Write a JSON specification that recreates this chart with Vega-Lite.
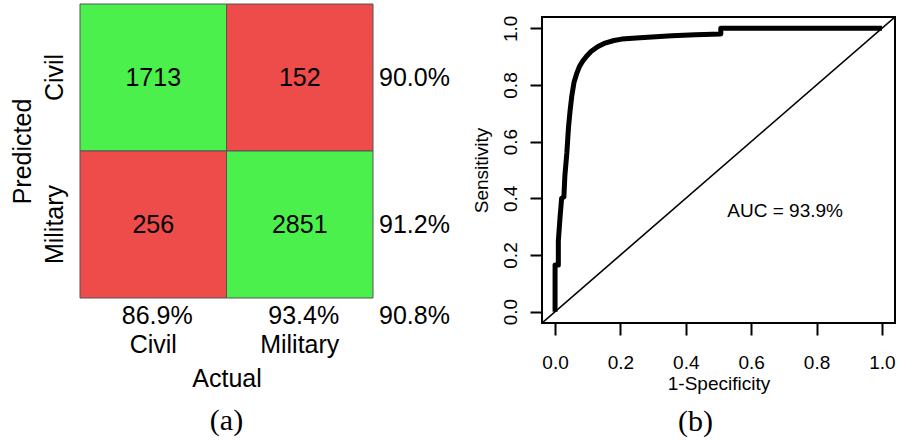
{
  "$schema": "https://vega.github.io/schema/vega-lite/v6.json",
  "background": "white",
  "padding": {"left": 10, "top": 3, "right": 0, "bottom": 0},
  "bounds": "flush",
  "spacing": 169,
  "config": {
    "font": "Liberation Sans",
    "view": {"stroke": null},
    "axis": {
      "grid": false,
      "labelColor": "black",
      "titleColor": "black",
      "tickColor": "black",
      "titleFontWeight": "normal",
      "labelFont": "Liberation Sans",
      "titleFont": "Liberation Sans",
      "labelFlush": false,
      "labelOverlap": false
    },
    "title": {
      "font": "Liberation Serif",
      "fontWeight": "normal",
      "fontSize": 30,
      "color": "black",
      "orient": "bottom",
      "anchor": "middle"
    }
  },
  "hconcat": [
    {
      "width": 293,
      "height": 281,
      "title": {"text": "(a)", "offset": 15},
      "layer": [
        {
          "data": {
            "values": [
              {"actual": "Civil", "predicted": "Civil", "count": 1713, "outcome": "correct"},
              {"actual": "Military", "predicted": "Civil", "count": 152, "outcome": "wrong"},
              {"actual": "Civil", "predicted": "Military", "count": 256, "outcome": "wrong"},
              {"actual": "Military", "predicted": "Military", "count": 2851, "outcome": "correct"}
            ]
          },
          "layer": [
            {
              "mark": {"type": "rect", "stroke": "#555555", "strokeWidth": 1},
              "encoding": {
                "color": {
                  "field": "outcome",
                  "type": "nominal",
                  "scale": {"domain": ["correct", "wrong"], "range": ["#4CF04C", "#EE4B4B"]},
                  "legend": null
                }
              }
            },
            {
              "mark": {"type": "text", "fontSize": 25, "color": "black", "baseline": "middle"},
              "encoding": {"text": {"field": "count", "type": "quantitative"}}
            }
          ],
          "encoding": {
            "x": {
              "field": "actual",
              "type": "nominal",
              "sort": ["Civil", "Military"],
              "title": "Actual",
              "scale": {"paddingInner": 0, "paddingOuter": 0},
              "axis": {
                "orient": "bottom",
                "domain": false,
                "ticks": false,
                "tickSize": 0,
                "labelAngle": 0,
                "labelFontSize": 25,
                "labelPadding": 34,
                "titleFontSize": 25,
                "titlePadding": 9
              }
            },
            "y": {
              "field": "predicted",
              "type": "nominal",
              "sort": ["Civil", "Military"],
              "title": "Predicted",
              "scale": {"range": [-13, 281], "paddingInner": 0, "paddingOuter": 0},
              "axis": {
                "domain": false,
                "ticks": false,
                "tickSize": 0,
                "labelAngle": -90,
                "labelAlign": "center",
                "labelBaseline": "alphabetic",
                "labelFontSize": 25,
                "labelPadding": 18,
                "titleFontSize": 25,
                "titlePadding": 7
              }
            }
          }
        },
        {
          "data": {
            "values": [
              {"predicted": "Civil", "rate": "90.0%"},
              {"predicted": "Military", "rate": "91.2%"}
            ]
          },
          "mark": {"type": "text", "fontSize": 25, "color": "black", "align": "left", "baseline": "middle", "dx": 6},
          "encoding": {
            "x": {"datum": "Military", "type": "nominal", "bandPosition": 1},
            "y": {"field": "predicted", "type": "nominal"},
            "text": {"field": "rate"}
          }
        },
        {
          "data": {
            "values": [
              {"actual": "Civil", "rate": "86.9%"},
              {"actual": "Military", "rate": "93.4%"}
            ]
          },
          "mark": {"type": "text", "fontSize": 25, "color": "black", "align": "center", "baseline": "middle", "dx": 4, "dy": 18},
          "encoding": {
            "x": {"field": "actual", "type": "nominal"},
            "y": {"datum": "Military", "type": "nominal", "bandPosition": 1},
            "text": {"field": "rate"}
          }
        },
        {
          "data": {"values": [{"rate": "90.8%"}]},
          "mark": {"type": "text", "fontSize": 25, "color": "black", "align": "left", "baseline": "middle", "dx": 6, "dy": 18},
          "encoding": {
            "x": {"datum": "Military", "type": "nominal", "bandPosition": 1},
            "y": {"datum": "Military", "type": "nominal", "bandPosition": 1},
            "text": {"field": "rate"}
          }
        }
      ]
    },
    {
      "width": 353,
      "height": 306,
      "view": {"stroke": "black", "strokeWidth": 2},
      "title": {"text": "(b)", "offset": 14, "dx": -23},
      "layer": [
        {
          "data": {"values": [{"fpr": -0.04, "tpr": -0.04}, {"fpr": 1.04, "tpr": 1.04}]},
          "mark": {"type": "line", "color": "black", "strokeWidth": 1.6, "clip": true},
          "encoding": {
            "x": {"field": "fpr", "type": "quantitative"},
            "y": {"field": "tpr", "type": "quantitative"}
          }
        },
        {
          "data": {
            "values": [
              {"step": 1, "fpr": 0.0, "tpr": 0.0},
              {"step": 2, "fpr": 0.0, "tpr": 0.165},
              {"step": 3, "fpr": 0.01, "tpr": 0.165},
              {"step": 4, "fpr": 0.01, "tpr": 0.25},
              {"step": 5, "fpr": 0.015, "tpr": 0.33},
              {"step": 6, "fpr": 0.02, "tpr": 0.4},
              {"step": 7, "fpr": 0.027, "tpr": 0.405},
              {"step": 8, "fpr": 0.03, "tpr": 0.48},
              {"step": 9, "fpr": 0.036, "tpr": 0.56},
              {"step": 10, "fpr": 0.041, "tpr": 0.65},
              {"step": 11, "fpr": 0.046, "tpr": 0.71},
              {"step": 12, "fpr": 0.051, "tpr": 0.76},
              {"step": 13, "fpr": 0.058, "tpr": 0.81},
              {"step": 14, "fpr": 0.066, "tpr": 0.84},
              {"step": 15, "fpr": 0.075, "tpr": 0.866},
              {"step": 16, "fpr": 0.085, "tpr": 0.885},
              {"step": 17, "fpr": 0.095, "tpr": 0.9},
              {"step": 18, "fpr": 0.11, "tpr": 0.918},
              {"step": 19, "fpr": 0.13, "tpr": 0.935},
              {"step": 20, "fpr": 0.153, "tpr": 0.948},
              {"step": 21, "fpr": 0.18, "tpr": 0.957},
              {"step": 22, "fpr": 0.204, "tpr": 0.962},
              {"step": 23, "fpr": 0.26, "tpr": 0.967},
              {"step": 24, "fpr": 0.357, "tpr": 0.974},
              {"step": 25, "fpr": 0.43, "tpr": 0.977},
              {"step": 26, "fpr": 0.507, "tpr": 0.98},
              {"step": 27, "fpr": 0.507, "tpr": 1.0},
              {"step": 28, "fpr": 1.0, "tpr": 1.0}
            ]
          },
          "mark": {"type": "line", "color": "black", "strokeWidth": 5, "strokeJoin": "round", "strokeCap": "butt"},
          "encoding": {
            "x": {"field": "fpr", "type": "quantitative"},
            "y": {"field": "tpr", "type": "quantitative"},
            "order": {"field": "step", "type": "quantitative"}
          }
        },
        {
          "data": {"values": [{"fpr": 0.704, "tpr": 0.354, "label": "AUC = 93.9%"}]},
          "mark": {"type": "text", "fontSize": 19, "color": "black", "align": "center", "baseline": "middle"},
          "encoding": {
            "x": {"field": "fpr", "type": "quantitative"},
            "y": {"field": "tpr", "type": "quantitative"},
            "text": {"field": "label"}
          }
        }
      ],
      "encoding": {
        "x": {
          "type": "quantitative",
          "title": "1-Specificity",
          "scale": {"domain": [-0.04, 1.04], "nice": false, "zero": false},
          "axis": {
            "values": [0, 0.2, 0.4, 0.6, 0.8, 1],
            "format": ".1f",
            "domain": false,
            "tickSize": 12,
            "tickWidth": 2,
            "labelFontSize": 19,
            "labelPadding": 18,
            "titleFontSize": 19,
            "titlePadding": 2
          }
        },
        "y": {
          "type": "quantitative",
          "title": "Sensitivity",
          "scale": {"domain": [-0.04, 1.04], "nice": false, "zero": false},
          "axis": {
            "values": [0, 0.2, 0.4, 0.6, 0.8, 1],
            "format": ".1f",
            "domain": false,
            "tickSize": 12,
            "tickWidth": 2,
            "labelAngle": -90,
            "labelAlign": "center",
            "labelBaseline": "alphabetic",
            "labelFontSize": 19,
            "labelPadding": 14,
            "titleFontSize": 19,
            "titlePadding": 10
          }
        }
      }
    }
  ]
}
